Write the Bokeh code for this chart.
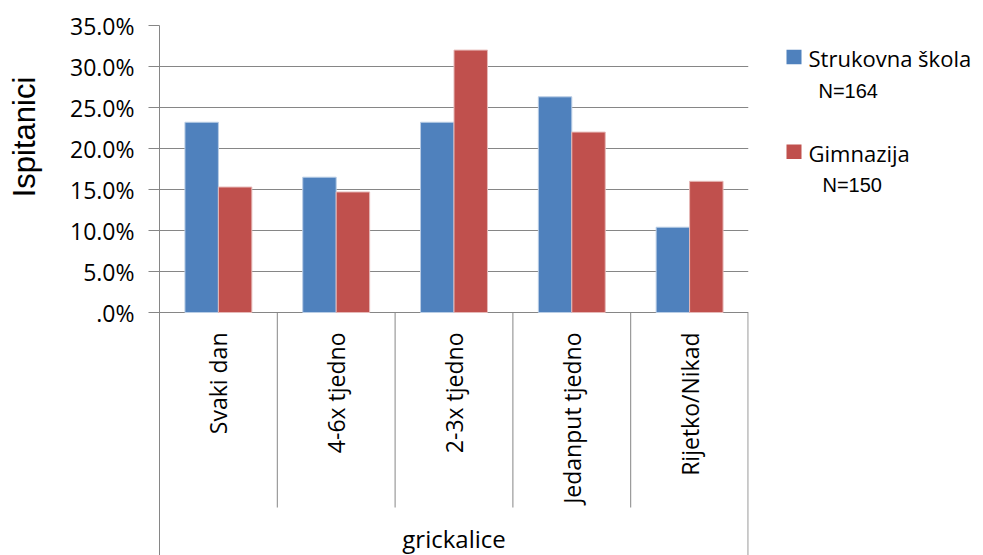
import math
from bokeh.plotting import figure
from bokeh.layouts import row
from bokeh.models import FactorRange, Range1d, FixedTicker, ColumnDataSource
from bokeh.transform import dodge
from bokeh.core.properties import value
from bokeh.embed import file_html
from bokeh.resources import INLINE

# ---------------- data ----------------
categories = ["Svaki dan", "4-6x tjedno", "2-3x tjedno", "Jedanput tjedno", "Rijetko/Nikad"]
strukovna = [23.2, 16.5, 23.2, 26.3, 10.4]
gimnazija = [15.3, 14.7, 32.0, 22.0, 16.0]
series_names = ["Strukovna škola", "Gimnazija"]
series_n = ["N=164", "N=150"]
series_colors = ["#4F81BD", "#C0504D"]
series_edges = ["#B9CDE5", "#E6B9B8"]
y_ticks = [0, 5, 10, 15, 20, 25, 30, 35]
y_tick_labels = [".0%", "5.0%", "10.0%", "15.0%", "20.0%", "25.0%", "30.0%", "35.0%"]
group_label = "grickalice"
y_title = "Ispitanici"

# ---------------- layout (page pixels) ----------------
H = 555
LEFT_W = 48            # strip holding the y title
MAIN_W = 732           # main chart figure
LEG_W = 983 - LEFT_W - MAIN_W
FRAME_L, FRAME_R, FRAME_T = 159, 748, 25
Y0_PX = 312            # pixel row of 0 %
PX_PER = (Y0_PX - FRAME_T) / 35.0
def yv(py):            # page pixel row -> value on the y scale
    return (Y0_PX - py) / PX_PER
Y_BOTTOM = yv(H)
GRID = "#868686"
FONT = "Open Sans"


def blank(width, x0):
    # frame spans the same rows as the main chart's frame (FRAME_T .. H),
    # with y measured in page pixels from the top
    f = figure(width=width, height=H, output_backend="svg", toolbar_location=None,
               title_location=None,
               x_range=Range1d(x0, x0 + width), y_range=Range1d(H, FRAME_T),
               x_axis_location=None, y_axis_location=None,
               min_border_left=0, min_border_right=0,
               min_border_top=FRAME_T, min_border_bottom=0)
    f.outline_line_color = None
    f.grid.visible = False
    return f


# ---------------- left strip: y title ----------------
pl = blank(LEFT_W, 0)
pl.text(x=[24], y=[136.5], text=[y_title], angle=math.pi / 2,
        text_align="center", text_baseline="middle",
        text_font=value("Liberation Sans"), text_font_size="31px", text_color="#000000")

# ---------------- main chart ----------------
src = ColumnDataSource(dict(cat=categories, s=strukovna, g=gimnazija))
p = figure(width=MAIN_W, height=H, output_backend="svg", toolbar_location=None,
           title_location=None,
           x_range=FactorRange(factors=categories, range_padding=0),
           y_range=Range1d(Y_BOTTOM, 35),
           min_border_left=FRAME_L - LEFT_W,
           min_border_right=LEFT_W + MAIN_W - FRAME_R,
           min_border_top=FRAME_T, min_border_bottom=0)
p.outline_line_color = None
p.xaxis.visible = False
p.xgrid.visible = False
p.ygrid.grid_line_color = GRID
p.ygrid.grid_line_width = 1

ya = p.yaxis[0]
ya.ticker = FixedTicker(ticks=y_ticks)
ya.major_label_overrides = {t: l for t, l in zip(y_ticks, y_tick_labels)}
ya.minor_tick_line_color = None
ya.major_tick_in = 0
ya.major_tick_out = 11
ya.major_tick_line_color = GRID
ya.axis_line_color = GRID
ya.major_label_standoff = 14
ya.major_label_text_font = FONT
ya.major_label_text_font_size = "23px"
ya.major_label_text_color = "#000000"

BW = 0.284
p.vbar(x=dodge("cat", -BW / 2, range=p.x_range), top="s", width=BW, bottom=0,
       source=src, fill_color=series_colors[0], line_color=series_edges[0], line_width=1)
p.vbar(x=dodge("cat", BW / 2, range=p.x_range), top="g", width=BW, bottom=0,
       source=src, fill_color=series_colors[1], line_color=series_edges[1], line_width=1)

# category separators below the axis
SEP_BOTTOM = yv(507)
sep = ColumnDataSource(dict(cat=categories[:-1], y0=[0] * 4, y1=[SEP_BOTTOM] * 4))
p.segment(x0=dodge("cat", 0.5, range=p.x_range), x1=dodge("cat", 0.5, range=p.x_range),
          y0="y0", y1="y1", source=sep, line_color=GRID, line_width=1)
edge = ColumnDataSource(dict(cat=categories[-1:], y0=[0], y1=[Y_BOTTOM]))
p.segment(x0=dodge("cat", 0.497, range=p.x_range), x1=dodge("cat", 0.497, range=p.x_range),
          y0="y0", y1="y1", source=edge, line_color=GRID, line_width=1.2)

# category labels (rotated)
lab = ColumnDataSource(dict(cat=categories, y=[yv(332)] * len(categories)))
p.text(x="cat", y="y", text="cat", source=lab, angle=math.pi / 2,
       text_align="right", text_baseline="middle",
       text_font=value(FONT), text_font_size="23px", text_color="#000000")

# group label
grp = ColumnDataSource(dict(cat=[categories[2]], y=[yv(538)], t=[group_label]))
p.text(x="cat", y="y", text="t", source=grp, text_align="center", text_baseline="middle",
       text_font=value(FONT), text_font_size="24px", text_color="#000000")

# ---------------- legend strip ----------------
pg = blank(LEG_W, LEFT_W + MAIN_W)
sq_top = [49.3, 144.0]
name_y = [57.5, 152.5]
n_x = [818, 822]
n_y = [90.0, 184.3]
pg.quad(left=[786, 786], right=[801, 801], top=sq_top, bottom=[t + 14.5 for t in sq_top],
        fill_color=series_colors, line_color=None)
pg.text(x=[808, 808], y=name_y, text=series_names, text_align="left", text_baseline="middle",
        text_font=value(FONT), text_font_size="22px", text_color="#000000")
pg.text(x=n_x, y=n_y, text=series_n, text_align="left", text_baseline="middle",
        text_font=value("Liberation Sans"), text_font_size="20px", text_color="#000000")

layout = row(pl, p, pg, spacing=0)
open("out.html", "w").write(file_html(layout, INLINE))
